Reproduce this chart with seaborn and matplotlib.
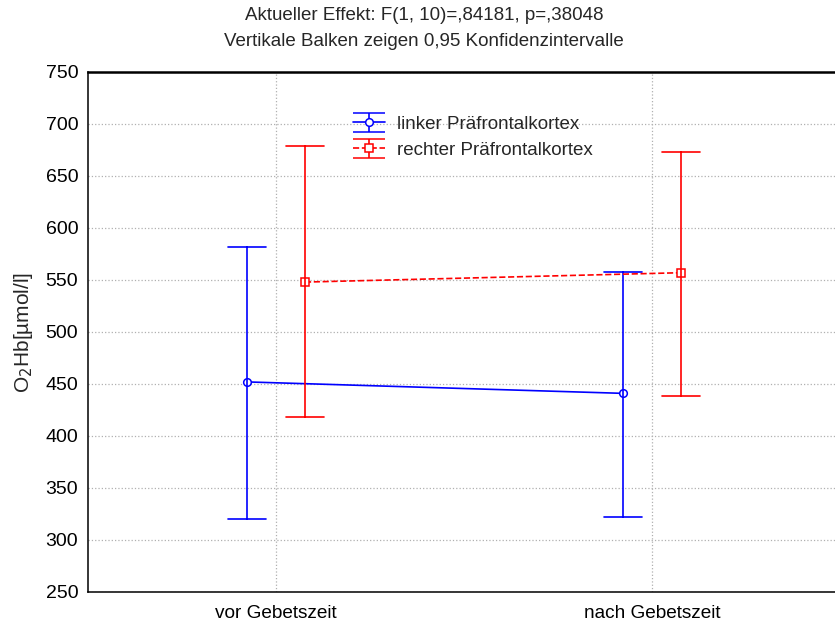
import numpy as np
import pandas as pd
import matplotlib
matplotlib.use("Agg")
import matplotlib.pyplot as plt
import seaborn as sns

zeit = ["vor Gebetszeit", "nach Gebetszeit"]
seiten = ["linker Präfrontalkortex", "rechter Präfrontalkortex"]

links_mean = [452, 441]
links_lo = [320, 322]
links_hi = [582, 558]

rechts_mean = [548, 557]
rechts_lo = [418, 438]
rechts_hi = [679, 673]

# lo / mean / hi per Gruppe -> Median = Mittelwert, Min..Max = Konfidenzintervall
rows = []
for seite, lo, mn, hi in [(seiten[0], links_lo, links_mean, links_hi),
                          (seiten[1], rechts_lo, rechts_mean, rechts_hi)]:
    for i, z in enumerate(zeit):
        for v in (lo[i], mn[i], hi[i]):
            rows.append({"Zeit": z, "Seite": seite, "Wert": v})
df = pd.DataFrame(rows)

sns.set_style("white")
plt.rcParams["font.family"] = ["Liberation Sans", "DejaVu Sans"]

fig = plt.figure(figsize=(8.35, 6.28), dpi=100)
ax = fig.add_axes([88 / 835, 36 / 628, 752 / 835, 520 / 628])

farben = {seiten[0]: "#0000ff", seiten[1]: "#ff0000"}
sns.pointplot(data=df, x="Zeit", y="Wert", hue="Seite", order=zeit, hue_order=seiten,
              estimator="median", errorbar=("pi", 100), dodge=0.154,
              palette=farben, markers=["o", "s"], linestyles=["-", "--"],
              capsize=0.1, err_kws={"linewidth": 1.2}, linewidth=1.2,
              markersize=5.5, markerfacecolor="white", markeredgewidth=1.1,
              legend=False, ax=ax)

# Legende im Fehlerbalken-Stil
h1 = ax.errorbar([np.nan], [np.nan], yerr=[1], fmt="-o", color="#0000ff", mfc="white",
                 ms=5.5, mew=1.1, lw=1.2, capsize=11.5)
h2 = ax.errorbar([np.nan], [np.nan], yerr=[1], fmt="--s", color="#ff0000", mfc="white",
                 ms=5.5, mew=1.1, lw=1.2, capsize=11.5)
ax.legend([h1, h2], seiten, loc="upper left", bbox_to_anchor=(265 / 752, 0.916),
          borderaxespad=0, borderpad=0, frameon=False, fontsize=13.5,
          handlelength=1.7, handletextpad=0.64, labelspacing=0.47)

ax.set_xlim(-0.5, 1.5)
ax.set_ylim(250, 750)
ax.set_yticks(np.arange(250, 751, 50))
ax.grid(True, linestyle=":", color="#b0b0b0", linewidth=0.9)
ax.tick_params(direction="in", length=3, colors="black")
ax.tick_params(axis="y", labelsize=14, pad=7)
ax.tick_params(axis="x", labelsize=13.7, pad=9.5)
ax.set_xlabel("")
ax.set_ylabel("O$_2$Hb[µmol/l]", fontsize=15)
ax.yaxis.set_label_coords(-0.071, 0.5)
ax.spines["right"].set_visible(False)
ax.spines["top"].set_linewidth(1.8)
for s in ["left", "bottom"]:
    ax.spines[s].set_linewidth(1.1)
    ax.spines[s].set_color("black")
ax.spines["top"].set_color("black")

fig.text(424 / 835, 1 - 16 / 628, "Aktueller Effekt: F(1, 10)=,84181, p=,38048",
         ha="center", va="center", fontsize=13.5)
fig.text(424 / 835, 1 - 42 / 628, "Vertikale Balken zeigen 0,95 Konfidenzintervalle",
         ha="center", va="center", fontsize=13.5)

fig.savefig("out.png", dpi=100)
